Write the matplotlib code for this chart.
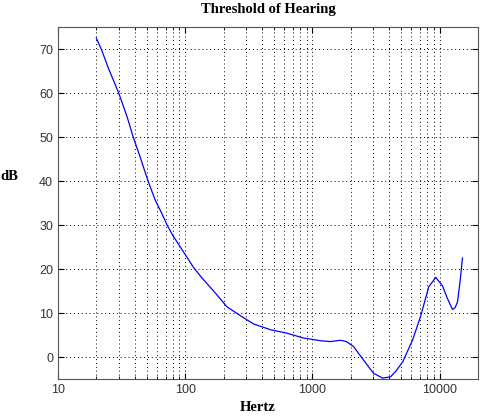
import numpy as np
import matplotlib
matplotlib.use("Agg")
import matplotlib.pyplot as plt
from matplotlib.ticker import LogLocator, NullFormatter, FixedLocator

# threshold of hearing curve
freq = [20, 22, 25, 30, 35, 39, 45, 51, 58, 65, 72, 80, 91, 109, 116, 135,
        167, 213, 271, 345, 468, 631, 853, 1000, 1157, 1387, 1660, 1850,
        2100, 2520, 3020, 3560, 4110, 4500, 5120, 6130, 7090, 8190, 9300,
        10500, 11500, 12600, 13200, 13800, 14500, 15100]
db = [72.5, 69.8, 65.5, 60.0, 54.5, 50.0, 44.8, 40.0, 35.7, 32.8, 30.0, 27.6,
      25.1, 21.6, 20.4, 18.0, 15.0, 11.4, 9.4, 7.5, 6.2, 5.4, 4.3, 4.0, 3.7,
      3.5, 3.8, 3.5, 2.4, -0.7, -3.7, -4.8, -4.5, -3.3, -1.1, 3.9, 9.3, 15.9,
      18.1, 16.2, 13.3, 10.8, 11.2, 12.5, 17.5, 22.5]

xticks = [10, 100, 1000, 10000]
yticks = [0, 10, 20, 30, 40, 50, 60, 70]

fig = plt.figure(figsize=(4.84, 4.17), dpi=100)
ax = fig.add_axes([58/484, 1-379/417, 420/484, 352/417])

ax.plot(freq, db, color="#0000ff", linewidth=0.9)

ax.set_xscale("log")
ax.set_xlim(10, 20000)
ax.set_ylim(-5, 75)
ax.xaxis.set_major_locator(FixedLocator(xticks))
ax.set_xticklabels([str(t) for t in xticks])
ax.xaxis.set_minor_locator(LogLocator(base=10, subs=np.arange(2, 10)))
ax.xaxis.set_minor_formatter(NullFormatter())
ax.set_yticks(yticks)

ax.grid(True, which="major", linestyle=(0, (1, 3)), color="black", linewidth=0.7)
ax.grid(True, which="minor", axis="x", linestyle=(0, (1, 3)), color="black", linewidth=0.7)
ax.tick_params(which="both", direction="in", top=True, right=True)
ax.tick_params(which="major", length=4)
ax.tick_params(which="minor", length=2)
for lbl in ax.get_xticklabels() + ax.get_yticklabels():
    lbl.set_fontfamily("Liberation Sans")
    lbl.set_fontsize(9)
    lbl.set_color("#333333")
for s in ax.spines.values():
    s.set_color("#555555")

serif = {"family": "Liberation Serif", "weight": "bold", "size": 10.5}
ax.set_title("Threshold of Hearing", fontdict=serif, pad=10)
ax.set_xlabel("Hertz", fontdict=serif)
ax.xaxis.set_label_coords(0.476, -0.062)
ax.set_ylabel("dB", fontdict=serif, rotation=0)
ax.yaxis.set_label_coords(-0.117, 0.557)

fig.savefig("out.png", dpi=100)
